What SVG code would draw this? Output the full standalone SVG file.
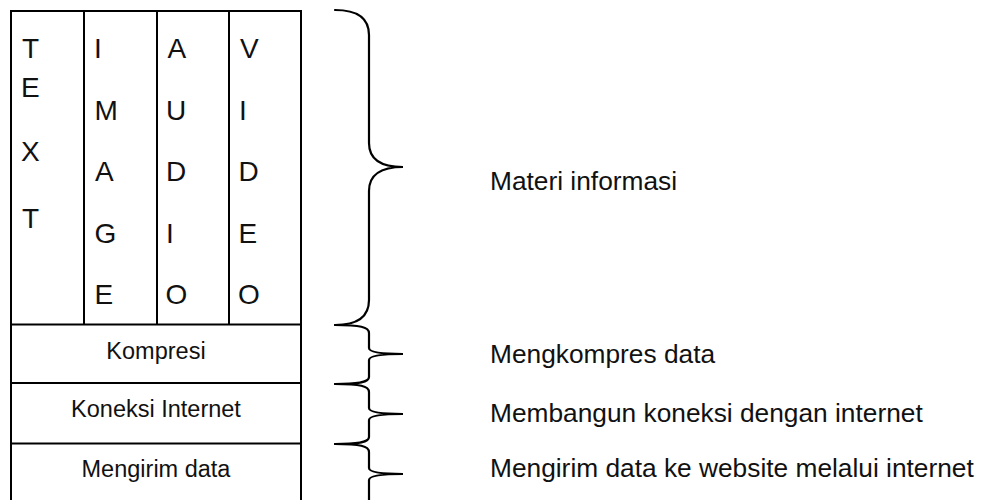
<svg xmlns="http://www.w3.org/2000/svg" width="984" height="500" viewBox="0 0 984 500">
  <style>
    .ln { fill: none; stroke: #000; stroke-width: 2; }
    .br { fill: none; stroke: #000; stroke-width: 2.2; stroke-linecap: round; }
    .ltr { font-family: "Liberation Sans", Arial, sans-serif; font-size: 28px; fill: #111; }
    .box { font-family: "Liberation Sans", Arial, sans-serif; font-size: 23.5px; fill: #111; text-anchor: middle; }
    .lbl { font-family: "Liberation Sans", Arial, sans-serif; font-size: 26.3px; fill: #111; }
  </style>
  <rect width="984" height="500" fill="#fff"/>

  <!-- media layer: four columns of vertical letters -->
  <g id="media">
    <rect class="ln" x="11" y="11" width="290" height="313.5"/>
    <line class="ln" x1="84" y1="11" x2="84" y2="324.5"/>
    <line class="ln" x1="157" y1="11" x2="157" y2="324.5"/>
    <line class="ln" x1="229" y1="11" x2="229" y2="324.5"/>
  </g>
  <g id="text-col" class="ltr">
    <text x="22" y="58">T</text>
    <text x="21" y="97">E</text>
    <text x="21" y="161">X</text>
    <text x="22" y="228">T</text>
  </g>
  <g id="image-col" class="ltr">
    <text x="94" y="58">I</text>
    <text x="94.5" y="119.5">M</text>
    <text x="95" y="181">A</text>
    <text x="94.5" y="242.5">G</text>
    <text x="94.5" y="304">E</text>
  </g>
  <g id="audio-col" class="ltr">
    <text x="167.5" y="58">A</text>
    <text x="166" y="119.5">U</text>
    <text x="166" y="181">D</text>
    <text x="166" y="242.5">I</text>
    <text x="165.5" y="304">O</text>
  </g>
  <g id="video-col" class="ltr">
    <text x="240" y="58">V</text>
    <text x="239" y="119.5">I</text>
    <text x="238.5" y="181">D</text>
    <text x="238.5" y="242.5">E</text>
    <text x="238" y="304">O</text>
  </g>

  <!-- processing layers below the media block -->
  <g id="kompresi">
    <line class="ln" x1="11" y1="324.5" x2="11" y2="383"/>
    <line class="ln" x1="301" y1="324.5" x2="301" y2="383"/>
    <line class="ln" x1="10" y1="383" x2="302" y2="383"/>
    <text class="box" x="156" y="358.5">Kompresi</text>
  </g>
  <g id="koneksi">
    <line class="ln" x1="11" y1="383" x2="11" y2="443.5"/>
    <line class="ln" x1="301" y1="383" x2="301" y2="443.5"/>
    <line class="ln" x1="10" y1="443.5" x2="302" y2="443.5"/>
    <text class="box" x="156" y="417">Koneksi Internet</text>
  </g>
  <g id="kirim">
    <line class="ln" x1="11" y1="443.5" x2="11" y2="510"/>
    <line class="ln" x1="301" y1="443.5" x2="301" y2="510"/>
    <text class="box" x="156" y="477">Mengirim data</text>
  </g>

  <!-- curly braces linking each layer to its description -->
  <g id="connectors">
    <path class="br" d="M335,10 C360,10 369,20 369,35 L369,143 C369,159 380,167 403,167 C380,167 369,175 369,191 L369,300 C369,315 360,325 335,325"/>
    <path class="br" d="M335,325 C360,325 369,327 369,333 L369,348 C369,352 380,354 403,354 C380,354 369,356 369,360 L369,377 C369,382 360,384 335,384"/>
    <path class="br" d="M335,384 C360,384 369,386 369,392 L369,408 C369,412 380,414 403,414 C380,414 369,416 369,420 L369,437 C369,442 360,444 335,444"/>
    <path class="br" d="M335,444 C360,444 369,446 369,452 L369,468 C369,472 380,474 403,474 C380,474 369,476 369,480 L369,510"/>
  </g>

  <!-- descriptions -->
  <g id="labels" class="lbl">
    <text x="490" y="190">Materi informasi</text>
    <text x="490" y="363">Mengkompres data</text>
    <text x="490" y="422">Membangun koneksi dengan internet</text>
    <text x="490" y="477">Mengirim data ke website melalui internet</text>
  </g>
</svg>
